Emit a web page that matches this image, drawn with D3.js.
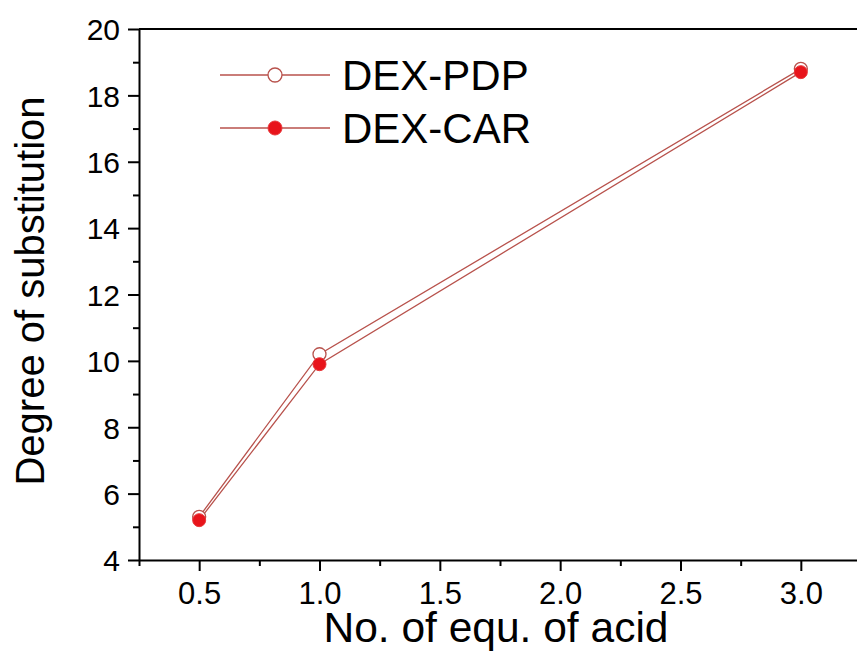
<!DOCTYPE html>
<html><head><meta charset="utf-8">
<script src="https://cdn.jsdelivr.net/npm/d3@7"></script>
<style>
html,body{margin:0;padding:0;background:#fff;}
svg{display:block;font-family:"Liberation Sans",Arial,sans-serif;}
</style></head>
<body>
<svg id="chart" width="857" height="662"></svg>
<script>
const xValues = [0.5, 1.0, 3.0];
const pdpValues = [5.3, 10.2, 18.8];
const carValues = [5.2, 9.9, 18.7];
const seriesNames = ["DEX-PDP", "DEX-CAR"];
const xTicks = [0.5, 1.0, 1.5, 2.0, 2.5, 3.0];
const yTicks = [4, 6, 8, 10, 12, 14, 16, 18, 20];
const xTitle = "No. of equ. of acid";
const yTitle = "Degree of substitution";

const svg = d3.select("#chart");
const m = {left: 139, top: 29, bottom: 560, right: 861};
const x = d3.scaleLinear().domain([0.25, 3.25]).range([m.left, m.right]);
const y = d3.scaleLinear().domain([4, 20]).range([m.bottom, m.top]);

const lineColor = "#b8524c";
const redFill = "#e8141b";
const font = "Liberation Sans, Arial, sans-serif";

// frame top line
svg.append("line").attr("x1", m.left).attr("x2", m.right).attr("y1", m.top).attr("y2", m.top)
  .attr("stroke", "#000").attr("stroke-width", 2);

// x axis
const xMinor = d3.range(0.25, 3.26, 0.25).filter(v => !xTicks.some(t => Math.abs(t - v) < 1e-6));
const xAxisG = svg.append("g").attr("transform", `translate(0,${m.bottom})`);
xAxisG.call(d3.axisBottom(x).tickValues(xTicks).tickFormat(d3.format(".1f")).tickSize(11).tickSizeOuter(0));
xAxisG.append("g").call(d3.axisBottom(x).tickValues(xMinor).tickFormat("").tickSize(6).tickSizeOuter(0))
  .select(".domain").remove();

// y axis
const yMinor = d3.range(5, 20, 2);
const yAxisG = svg.append("g").attr("transform", `translate(${m.left},0)`);
yAxisG.call(d3.axisLeft(y).tickValues(yTicks).tickFormat(d3.format("d")).tickSize(11).tickSizeOuter(0));
yAxisG.append("g").call(d3.axisLeft(y).tickValues(yMinor).tickFormat("").tickSize(6).tickSizeOuter(0))
  .select(".domain").remove();

svg.selectAll(".domain").attr("stroke", "#000").attr("stroke-width", 2);
svg.selectAll(".tick line").attr("stroke", "#000").attr("stroke-width", 2);
xAxisG.selectAll(".tick text").attr("font-size", 31).attr("font-family", font)
  .attr("fill", "#000").attr("y", 44).attr("dy", 0);
yAxisG.selectAll(".tick text").attr("font-size", 30).attr("font-family", font)
  .attr("fill", "#000").attr("x", -19).attr("dy", "0.36em");

// titles
svg.append("text").attr("x", 496).attr("y", 642).attr("text-anchor", "middle")
  .attr("font-size", 42.5).attr("fill", "#000").text(xTitle);
svg.append("text").attr("transform", `translate(44,291) rotate(-90)`).attr("text-anchor", "middle")
  .attr("font-size", 40).attr("fill", "#000").text(yTitle);

// series
const series = [
  {name: seriesNames[0], values: pdpValues, open: true},
  {name: seriesNames[1], values: carValues, open: false}
];
const line = d3.line().x((d, i) => x(xValues[i])).y(d => y(d));
const r = 6.5;
series.forEach(s => {
  svg.append("path").datum(s.values).attr("d", line)
    .attr("fill", "none").attr("stroke", lineColor).attr("stroke-width", 1.3);
});
series.forEach(s => {
  svg.append("g").selectAll("circle").data(s.values).join("circle")
    .attr("cx", (d, i) => x(xValues[i])).attr("cy", d => y(d)).attr("r", r)
    .attr("fill", s.open ? "#fff" : redFill)
    .attr("stroke", s.open ? lineColor : "#e8393c").attr("stroke-width", s.open ? 1.3 : 1);
});

// legend
const legY = [75, 128];
series.forEach((s, i) => {
  const g = svg.append("g").attr("transform", `translate(0,${legY[i]})`);
  g.append("line").attr("x1", 220).attr("x2", 330).attr("y1", 0).attr("y2", 0)
    .attr("stroke", lineColor).attr("stroke-width", 1.3);
  g.append("circle").attr("cx", 275).attr("cy", 0).attr("r", 7)
    .attr("fill", s.open ? "#fff" : redFill)
    .attr("stroke", s.open ? lineColor : "#e8393c").attr("stroke-width", s.open ? 1.3 : 1);
  g.append("text").attr("x", 342).attr("y", 0).attr("dy", "0.36em")
    .attr("font-size", 42).attr("fill", "#000").text(s.name);
});
</script>
</body></html>
